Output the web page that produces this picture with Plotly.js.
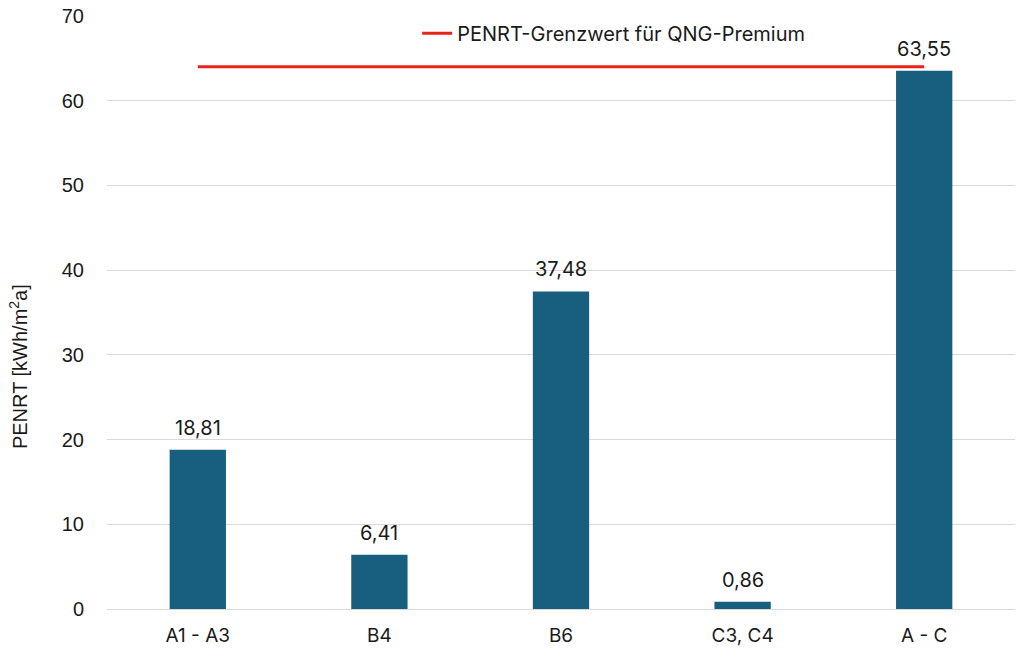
<!DOCTYPE html>
<html>
<head>
<meta charset="utf-8">
<script src="https://cdn.plot.ly/plotly-3.0.1.min.js"></script>
<style>html,body{margin:0;padding:0;background:#fff;}#chart{width:1024px;height:658px;}</style>
</head>
<body>
<div id="chart"></div>
<script>
const categories = ["A1 - A3", "B4", "B6", "C3, C4", "A - C"];
const penrtValues = [18.81, 6.41, 37.48, 0.86, 63.55];
const limitValue = 64;
const limitName = "PENRT-Grenzwert für QNG-Premium";
const yTicks = [0, 10, 20, 30, 40, 50, 60, 70];
const yTitle = "PENRT [kWh/m<sup>2</sup>a]";

const labelFont = {family: "Inter, 'Open Sans', sans-serif", size: 20, color: "#1a1a1a"};

const bars = {
  type: "bar",
  x: categories,
  y: penrtValues,
  width: 0.31,
  marker: {color: "#175E7F"},
  showlegend: false,
  hoverinfo: "x+y"
};
const limitLine = {
  type: "scatter",
  mode: "lines",
  x: [categories[0], categories[categories.length - 1]],
  y: [limitValue, limitValue],
  line: {color: "#E8231A", width: 3},
  name: limitName,
  showlegend: true
};

const fmt = v => v.toFixed(2).replace(".", ",");
const annotations = categories.map((c, i) => ({
  x: c, y: penrtValues[i], xref: "x", yref: "y",
  text: fmt(penrtValues[i]), showarrow: false,
  yanchor: "bottom", yshift: 8, font: labelFont
}));
annotations.push({
  xref: "paper", yref: "paper", x: -0.098, y: 0.408,
  xanchor: "center", yanchor: "middle", textangle: -90,
  text: yTitle, showarrow: false,
  font: {family: "'Liberation Sans', Arial, sans-serif", size: 20, color: "#1a1a1a"}
});

const layout = {
  width: 1024, height: 658,
  margin: {l: 107, r: 9, t: 16, b: 49},
  paper_bgcolor: "#fff", plot_bgcolor: "#fff",
  separators: ",.",
  font: {family: "'Liberation Sans', Arial, sans-serif", color: "#1a1a1a", size: 18},
  showlegend: true,
  legend: {
    orientation: "h", x: 0.558, xanchor: "center", y: 0.971, yanchor: "middle",
    bgcolor: "rgba(0,0,0,0)",
    font: labelFont,
    itemwidth: 30
  },
  annotations: annotations,
  xaxis: {
    type: "category",
    showgrid: false, showline: true, linecolor: "#d9d9d9", linewidth: 1,
    ticks: "", ticklabelstandoff: 9,
    tickfont: {family: "Inter, 'Open Sans', sans-serif", size: 19, color: "#1a1a1a"},
    fixedrange: true
  },
  yaxis: {
    range: [0, 70], tickvals: yTicks,
    showgrid: true, gridcolor: "#d9d9d9", gridwidth: 1,
    zeroline: false, showline: false,
    ticks: "", ticklabelstandoff: 22,
    tickfont: {family: "'Liberation Sans', Arial, sans-serif", size: 20, color: "#1a1a1a"},
    automargin: false,
    fixedrange: true
  }
};

Plotly.newPlot("chart", [bars, limitLine], layout, {displayModeBar: false, staticPlot: true});
</script>
</body>
</html>
